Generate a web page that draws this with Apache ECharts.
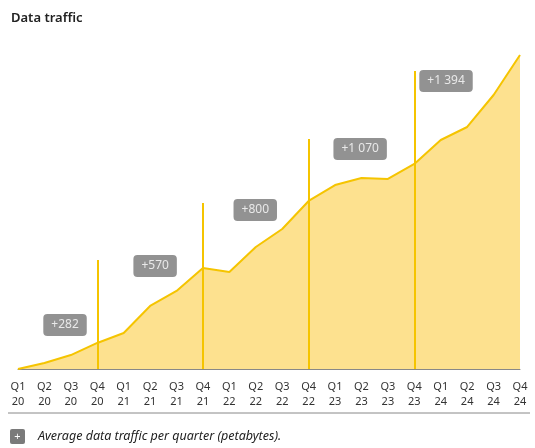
<!DOCTYPE html>
<html><head><meta charset="utf-8">
<script src="https://cdn.jsdelivr.net/npm/echarts@6/dist/echarts.min.js"></script>
<style>html,body{margin:0;background:#fff}#c{width:535px;height:448px}</style>
</head><body><div id="c"></div>
<script>
var quarters = ['Q1\n20','Q2\n20','Q3\n20','Q4\n20','Q1\n21','Q2\n21','Q3\n21','Q4\n21','Q1\n22','Q2\n22','Q3\n22','Q4\n22','Q1\n23','Q2\n23','Q3\n23','Q4\n23','Q1\n24','Q2\n24','Q3\n24','Q4\n24'];
var traffic = [0,46,106,198,274,479,593,768,737,927,1064,1277,1398,1452,1444,1558,1740,1839,2082,2386];
// vertical marker lines at each Q4 (index, top value)
var markers = [[3,828],[7,1262],[11,1748],[15,2265]];
// yearly increase labels (x position in category units, y value)
var increases = [[1.78,334,'+282'],[5.19,783,'+570'],[8.98,1209,'+800'],[12.95,1672,'+1 070'],[16.2,2189,'+1 394']];

var chart = echarts.init(document.getElementById('c'));
var font = '"Noto Sans", sans-serif';
chart.setOption({
  animation: false,
  title: {text: 'Data traffic', left: 6, top: 7, textStyle: {fontSize: 13, fontWeight: 600, color: '#222', fontFamily: font}},
  grid: {left: 18, right: 15, top: 55, bottom: 79},
  xAxis: [{
    type: 'category', data: quarters, boundaryGap: false,
    axisLine: {lineStyle: {color: '#888'}}, axisTick: {show: false},
    axisLabel: {color: '#333', fontSize: 11, lineHeight: 15, margin: 10, fontFamily: font, interval: 0}
  }, {type: 'value', min: 0, max: 19, show: false}],
  yAxis: {type: 'value', min: 0, max: 2386, show: false},
  graphic: [
    {type: 'line', shape: {x1: 8, y1: 413, x2: 530, y2: 413}, style: {stroke: '#888', lineWidth: 1}},
    {type: 'rect', shape: {x: 10, y: 429, width: 15, height: 15, r: 2}, style: {fill: '#7a7a7a'}},
    {type: 'text', style: {x: 17.5, y: 436.5, text: '+', fill: '#fff', fontSize: 11, align: 'center', verticalAlign: 'middle', fontFamily: font}},
    {type: 'text', style: {x: 38, y: 436.5, text: 'Average data traffic per quarter (petabytes).', fill: '#222', fontSize: 12.5, fontStyle: 'italic', verticalAlign: 'middle', fontFamily: font}}
  ],
  series: [{
    type: 'line', data: traffic, symbol: 'none', z: 2,
    lineStyle: {color: '#f5c400', width: 2},
    areaStyle: {color: '#fde18f', opacity: 1}
  }, {
    type: 'line', data: [], z: 3,
    markLine: {
      symbol: 'none', silent: true, label: {show: false},
      lineStyle: {color: '#f5c400', width: 2, type: 'solid'},
      data: markers.map(function (m) { return [{coord: [m[0], 0]}, {coord: [m[0], m[1]]}]; })
    }
  }, {
    type: 'scatter', xAxisIndex: 1, symbolSize: 0, z: 4,
    data: increases.map(function (d) { return [d[0], d[1], d[2]]; }),
    label: {
      show: true, position: 'inside', formatter: function (p) { return p.value[2]; },
      color: '#fff', fontSize: 12, fontFamily: font, backgroundColor: '#777',
      borderRadius: 4, padding: [5, 8]
    }
  }]
});
</script></body></html>
